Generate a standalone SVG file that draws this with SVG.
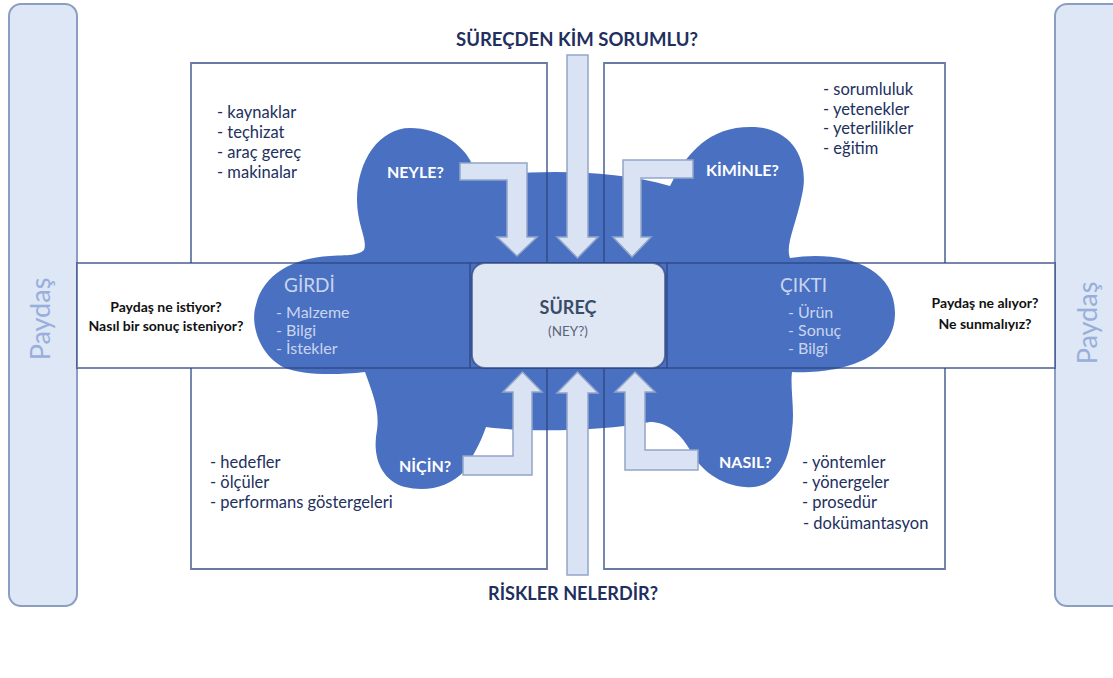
<svg xmlns="http://www.w3.org/2000/svg" width="1113" height="678" viewBox="0 0 1113 678">
<style>
.bg{fill:#ffffff}
.side{fill:#dde7f5;stroke:#8c9dc2;stroke-width:2}
.sideTxt{font-family:Lato,"Liberation Sans",sans-serif;font-size:27px;fill:#98aedb;text-anchor:middle}
.frame{fill:none;stroke:#2e4580;stroke-opacity:0.72;stroke-width:1.8}
.blob{fill:#4a70c2}
.arrow{fill:#dae3f3;stroke:#93a5c9;stroke-width:1.5}
.core{fill:#dfe7f4;stroke:#2e4580;stroke-opacity:0.7;stroke-width:1.8}
.list{font-family:Lato,"Liberation Sans",sans-serif;font-size:16.5px;fill:#22305e}
.head{font-family:Lato,"Liberation Sans",sans-serif;font-size:18px;font-weight:bold;fill:#1f2f5e;text-anchor:middle}
.q{font-family:Lato,"Liberation Sans",sans-serif;font-size:16px;font-weight:bold;fill:#ffffff}
.title{font-family:Lato,"Liberation Sans",sans-serif;font-size:19px;fill:#c8d5ef}
.sub{font-family:Lato,"Liberation Sans",sans-serif;font-size:16px;fill:#c8d5ef}
.ask{font-family:Lato,"Liberation Sans",sans-serif;font-size:14px;font-weight:bold;fill:#111111;text-anchor:middle}
</style>

<g id="paydas-left">
<rect class="side" x="9" y="4" width="68" height="602" rx="12"/>
<text class="sideTxt" transform="translate(50,319) rotate(-90)">Paydaş</text>
</g>
<g id="paydas-right">
<rect class="side" x="1055" y="4" width="80" height="602" rx="12"/>
<text class="sideTxt" transform="translate(1097,323) rotate(-90)">Paydaş</text>
</g>

<g id="backgrounds">
<rect class="bg" x="191" y="63" width="356" height="506"/>
<rect class="bg" x="604" y="63" width="341" height="506"/>
<rect class="bg" x="77" y="263" width="978" height="105"/>
</g>

<g id="blob">
<path class="blob" d="M480,178 C520,170 610,168 670,186 C688,150 712,125 755,127 C792,129 810,160 802,195 C796,225 785,245 790,258 C840,250 895,265 895,313 C895,360 840,374 792,372 C790,388 795,410 792,430 C789,470 770,490 745,487 C720,485 700,470 690,450 C680,432 665,422 650,422 C600,432 520,432 486,427 C480,445 470,460 465,470 C450,488 425,492 405,487 C380,480 372,455 377,430 C380,410 372,392 365,372 C330,376 300,374 285,368 C258,355 250,322 256,305 C263,275 292,258 330,256 C345,255 358,256 364,250 C368,240 357,225 357,200 C357,160 380,128 410,128 C440,128 462,145 470,160 C474,168 476,174 480,178 Z"/>
</g>

<g id="frames">
<path class="frame" d="M191,263 V63 H547 V263"/>
<path class="frame" d="M191,368 V569 H547 V368"/>
<path class="frame" d="M604,263 V63 H945 V263"/>
<path class="frame" d="M604,368 V569 H945 V368"/>
<rect class="frame" x="77" y="263" width="978" height="105"/>
<path class="frame" d="M470,263 V368 M667,263 V368"/>
</g>

<g id="connectors">
<path class="arrow" d="M567,55 H588 V237 H598 L577.5,258 L557,237 H567 Z"/>
<path class="arrow" d="M567,575 H588 V393 H598 L577.5,372 L557,393 H567 Z"/>
<path class="arrow" d="M460,163 H527 V237 H537 L517,256 L497,237 H507 V180 H460 Z"/>
<path class="arrow" d="M693,160 H623 V237 H613 L632,257 L651,237 H641 V178 H693 Z"/>
<path class="arrow" d="M463,456 H513 V392 H503 L522.5,372 L542,392 H532 V475 H463 Z"/>
<path class="arrow" d="M698,450 H645 V392 H655 L635,372 L615,392 H625 V470 H698 Z"/>
</g>

<g id="surec">
<rect class="core" x="472" y="263" width="193" height="105" rx="13"/>
<text x="568" y="314" font-family="Lato,'Liberation Sans',sans-serif" font-size="18" font-weight="bold" fill="#3b4a66" text-anchor="middle">SÜREÇ</text>
<text x="568" y="336" font-family="Lato,'Liberation Sans',sans-serif" font-size="13.5" fill="#5b6478" text-anchor="middle">(NEY?)</text>
</g>

<g id="headings">
<text class="head" x="577" y="46" textLength="242" lengthAdjust="spacingAndGlyphs">SÜREÇDEN KİM SORUMLU?</text>
<text class="head" x="573" y="600" textLength="170" lengthAdjust="spacingAndGlyphs">RİSKLER NELERDİR?</text>
</g>

<g id="neyle">
<text class="q" x="387" y="178">NEYLE?</text>
<text class="list" x="217" y="118">- kaynaklar</text>
<text class="list" x="217" y="138">- teçhizat</text>
<text class="list" x="217" y="158">- araç gereç</text>
<text class="list" x="217" y="178">- makinalar</text>
</g>

<g id="kiminle">
<text class="q" x="706" y="176">KİMİNLE?</text>
<text class="list" x="823" y="95">- sorumluluk</text>
<text class="list" x="823" y="114.5">- yetenekler</text>
<text class="list" x="823" y="134">- yeterlilikler</text>
<text class="list" x="823" y="153.5">- eğitim</text>
</g>

<g id="nicin">
<text class="q" x="399" y="472">NİÇİN?</text>
<text class="list" x="210" y="468">- hedefler</text>
<text class="list" x="210" y="488">- ölçüler</text>
<text class="list" x="210" y="508">- performans  göstergeleri</text>
</g>

<g id="nasil">
<text class="q" x="719" y="468">NASIL?</text>
<text class="list" x="802" y="468">- yöntemler</text>
<text class="list" x="802" y="488">- yönergeler</text>
<text class="list" x="802" y="508">- prosedür</text>
<text class="list" x="803" y="529">- dokümantasyon</text>
</g>

<g id="girdi">
<text class="title" x="284" y="292">GİRDİ</text>
<text class="sub" x="276" y="318">- Malzeme</text>
<text class="sub" x="276" y="336">- Bilgi</text>
<text class="sub" x="276" y="354">- İstekler</text>
<text class="ask" x="166" y="312">Paydaş ne istiyor?</text>
<text class="ask" x="166" y="331">Nasıl bir sonuç isteniyor?</text>
</g>

<g id="cikti">
<text class="title" x="780" y="292">ÇIKTI</text>
<text class="sub" x="788" y="318">- Ürün</text>
<text class="sub" x="788" y="336">- Sonuç</text>
<text class="sub" x="788" y="354">- Bilgi</text>
<text class="ask" x="985" y="308">Paydaş ne alıyor?</text>
<text class="ask" x="985" y="329">Ne sunmalıyız?</text>
</g>
</svg>
